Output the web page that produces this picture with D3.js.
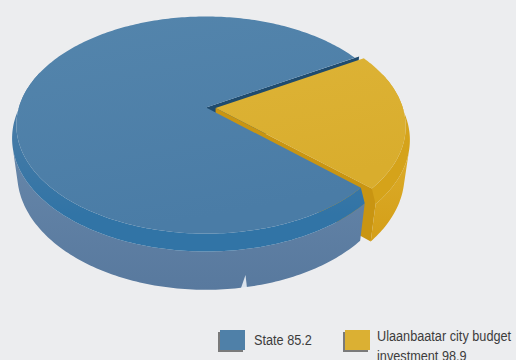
<!DOCTYPE html>
<html>
<head>
<meta charset="utf-8">
<script src="https://cdn.jsdelivr.net/npm/d3@7"></script>
<style>
  html, body { margin: 0; padding: 0; background: #ecedef; }
  svg { display: block; }
</style>
</head>
<body>
<svg id="chart" width="516" height="360"></svg>
<script>
// Series
const categories = ["State", "Ulaanbaatar city budget investment"];
const legendValues = [85.2, 98.9];
const sliceShares = [79.7, 20.3];   // share of the disc held by each slice (%)
const explodeBy = [0, 0.05];        // radial pull-out of each slice (disc radii)

// Palette per slice
const palette = [
  { top0: "#5485ac", top1: "#4a7ca6", bevel: "#3174a6", side0: "#6686a9", side1: "#58799e", face: "#1f4b6e", key: "#4f80a8" },
  { top0: "#ddb336", top1: "#d9ad2d", bevel: "#d5a31a", side0: "#dcac2a", side1: "#d49f18", face: "#c99512", key: "#dbb033" }
];

const svg = d3.select("#chart");

// Perspective camera looking down on the disc
const cam = { cx: 206, cy: 107.5, f: 955, dist: 4.95, tilt: 34.4 * Math.PI / 180 };
const sT = Math.sin(cam.tilt), cT = Math.cos(cam.tilt);
const thick = 0.31, bevelIn = 0.97, bevelDrop = 0.077;

function project(X, Y, Z) {
  const yp = Y * cT - Z * sT;
  const zp = Y * sT + Z * cT;
  const depth = cam.dist - zp;
  return [cam.cx + cam.f * X / depth, cam.cy - cam.f * yp / depth];
}
// a point of a slice: angle t (0 = far side, clockwise), radius r, height Y
function pt(t, r, Y, o) {
  return project(o.x + r * Math.sin(t), Y, o.z - r * Math.cos(t));
}
function poly(pts) {
  const p = d3.path();
  pts.forEach((q, i) => i ? p.lineTo(q[0], q[1]) : p.moveTo(q[0], q[1]));
  p.closePath();
  return p.toString();
}
function angles(a0, a1) {
  const n = Math.max(2, Math.ceil(Math.abs(a1 - a0) / (Math.PI / 180)));
  return d3.range(n + 1).map(i => a0 + (a1 - a0) * i / n);
}
// outer wall faces the camera?
function wallVisible(t, o) {
  return -1 - o.x * Math.sin(t) + o.z * Math.cos(t) - cam.dist * cT * Math.cos(t) > -0.02;
}
// rounded rim only shows on the near part of the disc
function rimVisible(t) { return Math.cos(t) < 0.35; }
function runs(list, test) {
  const out = []; let cur = [];
  list.forEach(a => { if (test(a)) cur.push(a); else { if (cur.length > 1) out.push(cur); cur = []; } });
  if (cur.length > 1) out.push(cur);
  return out;
}
// radial side face at angle t, normal pointing along sign*tangent
function faceVisible(t, sign, o) {
  const n = [sign * Math.cos(t), 0, sign * Math.sin(t)];
  const P = [o.x + 0.5 * Math.sin(t), -thick / 2, o.z - 0.5 * Math.cos(t)];
  const C = [0, cam.dist * sT, cam.dist * cT];
  return n[0] * (C[0] - P[0]) + n[1] * (C[1] - P[1]) + n[2] * (C[2] - P[2]) > 0;
}

const startDeg = 132.5;
const pie = d3.pie().sort(null).value(d => d)
  .startAngle(startDeg * Math.PI / 180)
  .endAngle(startDeg * Math.PI / 180 + 2 * Math.PI);
const slices = pie(sliceShares).map((d, i) => {
  const mid = (d.startAngle + d.endAngle) / 2;
  return { ...d, i, o: { x: explodeBy[i] * Math.sin(mid), z: -explodeBy[i] * Math.cos(mid) } };
});

// gradients
const defs = svg.append("defs");
palette.forEach((c, i) => {
  const g1 = defs.append("linearGradient").attr("id", "top" + i).attr("x1", 0).attr("y1", 0).attr("x2", 0.3).attr("y2", 1);
  g1.append("stop").attr("offset", 0).attr("stop-color", c.top0);
  g1.append("stop").attr("offset", 1).attr("stop-color", c.top1);
  const g2 = defs.append("linearGradient").attr("id", "side" + i).attr("x1", 0).attr("y1", 0).attr("x2", 0).attr("y2", 1);
  g2.append("stop").attr("offset", 0).attr("stop-color", c.side0);
  g2.append("stop").attr("offset", 1).attr("stop-color", c.side1);
  // rounded rim: blends into the top colour toward the back of the disc
  const g3 = defs.append("linearGradient").attr("id", "rim" + i).attr("gradientUnits", "userSpaceOnUse")
    .attr("x1", 0).attr("y1", i ? 60 : 110).attr("x2", 0).attr("y2", i ? 140 : 215);
  g3.append("stop").attr("offset", 0).attr("stop-color", c.top1);
  g3.append("stop").attr("offset", 1).attr("stop-color", c.bevel);
});

const layer = svg.append("g");

function drawRadialFace(s, t, sign) {
  if (!faceVisible(t, sign, s.o)) return;
  const c = palette[s.i];
  layer.append("path")
    .attr("d", poly([pt(t, 0, 0, s.o), pt(t, 1, 0, s.o), pt(t, 1, -thick, s.o), pt(t, 0, -thick, s.o)]))
    .attr("fill", c.face);
}
function drawBody(s) {
  const as = angles(s.startAngle, s.endAngle);
  // curved outer wall
  runs(as, a => wallVisible(a, s.o)).forEach(run => {
    const upper = run.map(a => pt(a, 1, -bevelDrop, s.o));
    const lower = run.slice().reverse().map(a => pt(a, 1, -thick, s.o));
    layer.append("path").attr("d", poly(upper.concat(lower)))
      .attr("fill", "url(#side" + s.i + ")");
  });
  // rounded rim between top and wall
  runs(as, rimVisible).forEach(run => {
    const inner = run.map(a => pt(a, bevelIn, 0, s.o));
    const outer = run.slice().reverse().map(a => pt(a, 1, -bevelDrop, s.o));
    layer.append("path").attr("d", poly(inner.concat(outer))).attr("fill", "url(#rim" + s.i + ")");
  });
  // top face
  const top = [pt(0, 0, 0, s.o)].concat(as.map(a => pt(a, bevelIn, 0, s.o)));
  layer.append("path").attr("d", poly(top)).attr("fill", "url(#top" + s.i + ")");
}

const [blue, gold] = slices;
// back to front
drawRadialFace(blue, blue.endAngle, 1);
drawRadialFace(gold, gold.startAngle, -1);
drawRadialFace(gold, gold.endAngle, 1);
drawBody(gold);
drawRadialFace(blue, blue.startAngle, -1);
drawBody(blue);

// small specular glint on the front wall
layer.append("path")
  .attr("d", poly([[241, 288], [245.5, 275], [247, 288]]))
  .attr("fill", "#e9eef4").attr("opacity", 0.9);

// legend
const legend = svg.append("g").attr("font-family", "'Liberation Sans', Arial, sans-serif")
  .attr("font-size", 15.5).attr("fill", "#3c3c3c");
const keyX = [220, 345];
const labelLines = [
  [categories[0] + " " + legendValues[0]],
  ["Ulaanbaatar city budget", "investment " + legendValues[1]]
];
const labelY = [345, 341];
categories.forEach((cat, i) => {
  legend.append("rect").attr("x", keyX[i] - 2).attr("y", 332).attr("width", 25).attr("height", 20).attr("fill", "#7a7a7a");
  legend.append("rect").attr("x", keyX[i]).attr("y", 330).attr("width", 25).attr("height", 20).attr("fill", palette[i].key);
  labelLines[i].forEach((line, j) => {
    const tx = keyX[i] + 34 - (i ? 2 : 0);
    legend.append("text")
      .attr("transform", `translate(${tx},${labelY[i] + j * 20}) scale(0.82,1)`)
      .text(line);
  });
});
</script>
</body>
</html>
